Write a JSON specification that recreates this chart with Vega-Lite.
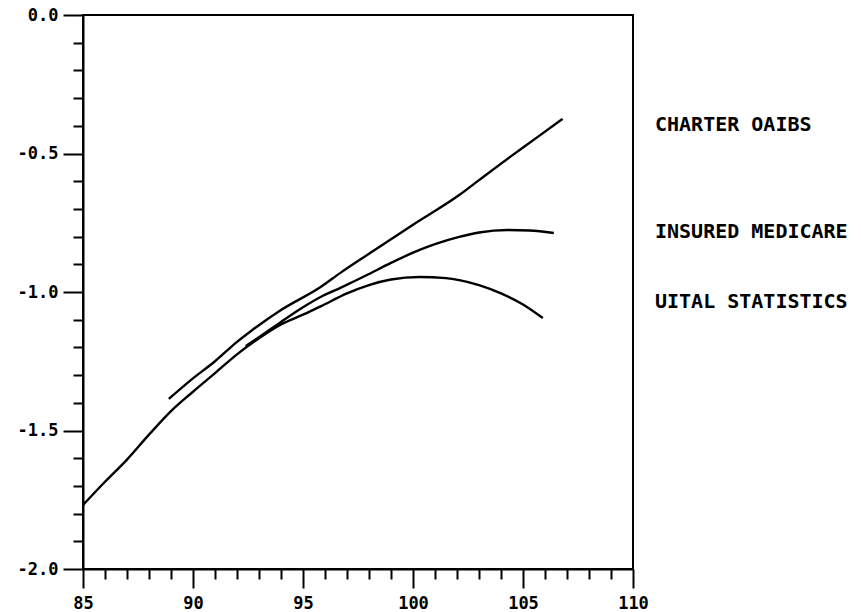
{
  "$schema": "https://vega.github.io/schema/vega-lite/v6.json",
  "width": 550,
  "height": 554,
  "autosize": "none",
  "padding": {"left": 83, "top": 15, "right": 228, "bottom": 43},
  "background": "white",
  "config": {
    "view": {"stroke": "black", "strokeWidth": 2},
    "axis": {
      "grid": false,
      "title": null,
      "domainColor": "black",
      "domainWidth": 2,
      "tickColor": "black",
      "tickWidth": 2,
      "labelColor": "black",
      "labelFont": "DejaVu Sans Mono",
      "labelFontWeight": "bold",
      "labelFontSize": 17
    }
  },
  "resolve": {"axis": {"x": "independent", "y": "independent"}},
  "layer": [
    {
      "data": {
        "values": [
          {"series": "CHARTER OAIBS", "x": 88.9, "y": -1.386},
          {"series": "CHARTER OAIBS", "x": 89.9, "y": -1.318},
          {"series": "CHARTER OAIBS", "x": 91.0, "y": -1.25},
          {"series": "CHARTER OAIBS", "x": 92.0, "y": -1.18},
          {"series": "CHARTER OAIBS", "x": 92.7, "y": -1.137},
          {"series": "CHARTER OAIBS", "x": 94.0, "y": -1.065},
          {"series": "CHARTER OAIBS", "x": 95.8, "y": -0.982},
          {"series": "CHARTER OAIBS", "x": 96.7, "y": -0.931},
          {"series": "CHARTER OAIBS", "x": 98.0, "y": -0.862},
          {"series": "CHARTER OAIBS", "x": 100.0, "y": -0.757},
          {"series": "CHARTER OAIBS", "x": 102.1, "y": -0.65},
          {"series": "CHARTER OAIBS", "x": 103.0, "y": -0.596},
          {"series": "CHARTER OAIBS", "x": 104.4, "y": -0.513},
          {"series": "CHARTER OAIBS", "x": 105.5, "y": -0.45},
          {"series": "CHARTER OAIBS", "x": 106.8, "y": -0.375},
          {"series": "INSURED MEDICARE", "x": 92.4, "y": -1.195},
          {"series": "INSURED MEDICARE", "x": 93.0, "y": -1.163},
          {"series": "INSURED MEDICARE", "x": 94.0, "y": -1.108},
          {"series": "INSURED MEDICARE", "x": 95.0, "y": -1.055},
          {"series": "INSURED MEDICARE", "x": 95.8, "y": -1.018},
          {"series": "INSURED MEDICARE", "x": 96.7, "y": -0.985},
          {"series": "INSURED MEDICARE", "x": 98.0, "y": -0.935},
          {"series": "INSURED MEDICARE", "x": 99.0, "y": -0.895},
          {"series": "INSURED MEDICARE", "x": 100.3, "y": -0.848},
          {"series": "INSURED MEDICARE", "x": 101.0, "y": -0.827},
          {"series": "INSURED MEDICARE", "x": 102.1, "y": -0.801},
          {"series": "INSURED MEDICARE", "x": 103.0, "y": -0.785},
          {"series": "INSURED MEDICARE", "x": 104.3, "y": -0.776},
          {"series": "INSURED MEDICARE", "x": 105.3, "y": -0.778},
          {"series": "INSURED MEDICARE", "x": 106.4, "y": -0.787},
          {"series": "VITAL STATISTICS", "x": 85.0, "y": -1.769},
          {"series": "VITAL STATISTICS", "x": 86.0, "y": -1.685},
          {"series": "VITAL STATISTICS", "x": 87.0, "y": -1.605},
          {"series": "VITAL STATISTICS", "x": 88.0, "y": -1.515},
          {"series": "VITAL STATISTICS", "x": 89.0, "y": -1.43},
          {"series": "VITAL STATISTICS", "x": 90.0, "y": -1.36},
          {"series": "VITAL STATISTICS", "x": 91.0, "y": -1.293},
          {"series": "VITAL STATISTICS", "x": 92.0, "y": -1.225},
          {"series": "VITAL STATISTICS", "x": 93.0, "y": -1.167},
          {"series": "VITAL STATISTICS", "x": 94.0, "y": -1.117},
          {"series": "VITAL STATISTICS", "x": 95.0, "y": -1.082},
          {"series": "VITAL STATISTICS", "x": 95.8, "y": -1.052},
          {"series": "VITAL STATISTICS", "x": 97.0, "y": -1.005},
          {"series": "VITAL STATISTICS", "x": 98.0, "y": -0.975},
          {"series": "VITAL STATISTICS", "x": 99.0, "y": -0.955},
          {"series": "VITAL STATISTICS", "x": 100.3, "y": -0.946},
          {"series": "VITAL STATISTICS", "x": 101.5, "y": -0.95},
          {"series": "VITAL STATISTICS", "x": 102.1, "y": -0.957},
          {"series": "VITAL STATISTICS", "x": 103.0, "y": -0.975},
          {"series": "VITAL STATISTICS", "x": 104.0, "y": -1.005},
          {"series": "VITAL STATISTICS", "x": 105.0, "y": -1.045},
          {"series": "VITAL STATISTICS", "x": 105.9, "y": -1.094}
        ]
      },
      "mark": {"type": "line", "color": "black", "strokeWidth": 2.4, "interpolate": "monotone", "clip": true},
      "encoding": {
        "x": {
          "field": "x", "type": "quantitative",
          "scale": {"domain": [85, 110], "nice": false, "zero": false},
          "axis": {"orient": "bottom", "values": [85, 90, 95, 100, 105, 110], "tickSize": 19, "labelPadding": 7, "format": "d", "labelFlush": false}
        },
        "y": {
          "field": "y", "type": "quantitative",
          "scale": {"domain": [-2, 0], "nice": false, "zero": false},
          "axis": {"orient": "left", "values": [-2, -1.5, -1, -0.5, 0], "tickSize": 20, "labelPadding": 5, "labelFlush": false, "labelExpr": "replace(format(datum.value, '.1f'), '\u2212', '-')"}
        },
        "detail": {"field": "series"}
      }
    },
    {
      "data": {
        "values": [
          {"label": "CHARTER OAIBS", "x": 111.0, "y": -0.397},
          {"label": "INSURED MEDICARE", "x": 111.0, "y": -0.782},
          {"label": "UITAL STATISTICS", "x": 111.0, "y": -1.035}
        ]
      },
      "mark": {"type": "text", "align": "left", "baseline": "middle", "font": "DejaVu Sans Mono", "fontWeight": "bold", "fontSize": 20, "color": "black"},
      "encoding": {
        "x": {
          "field": "x", "type": "quantitative",
          "axis": {"orient": "bottom", "values": [86, 87, 88, 89, 91, 92, 93, 94, 96, 97, 98, 99, 101, 102, 103, 104, 106, 107, 108, 109], "tickSize": 10, "labels": false, "domain": false}
        },
        "y": {
          "field": "y", "type": "quantitative",
          "axis": {"orient": "left", "values": [-1.9, -1.8, -1.7, -1.6, -1.4, -1.3, -1.2, -1.1, -0.9, -0.8, -0.7, -0.6, -0.4, -0.3, -0.2, -0.1], "tickSize": 10, "labels": false, "domain": false}
        },
        "text": {"field": "label"}
      }
    }
  ]
}
